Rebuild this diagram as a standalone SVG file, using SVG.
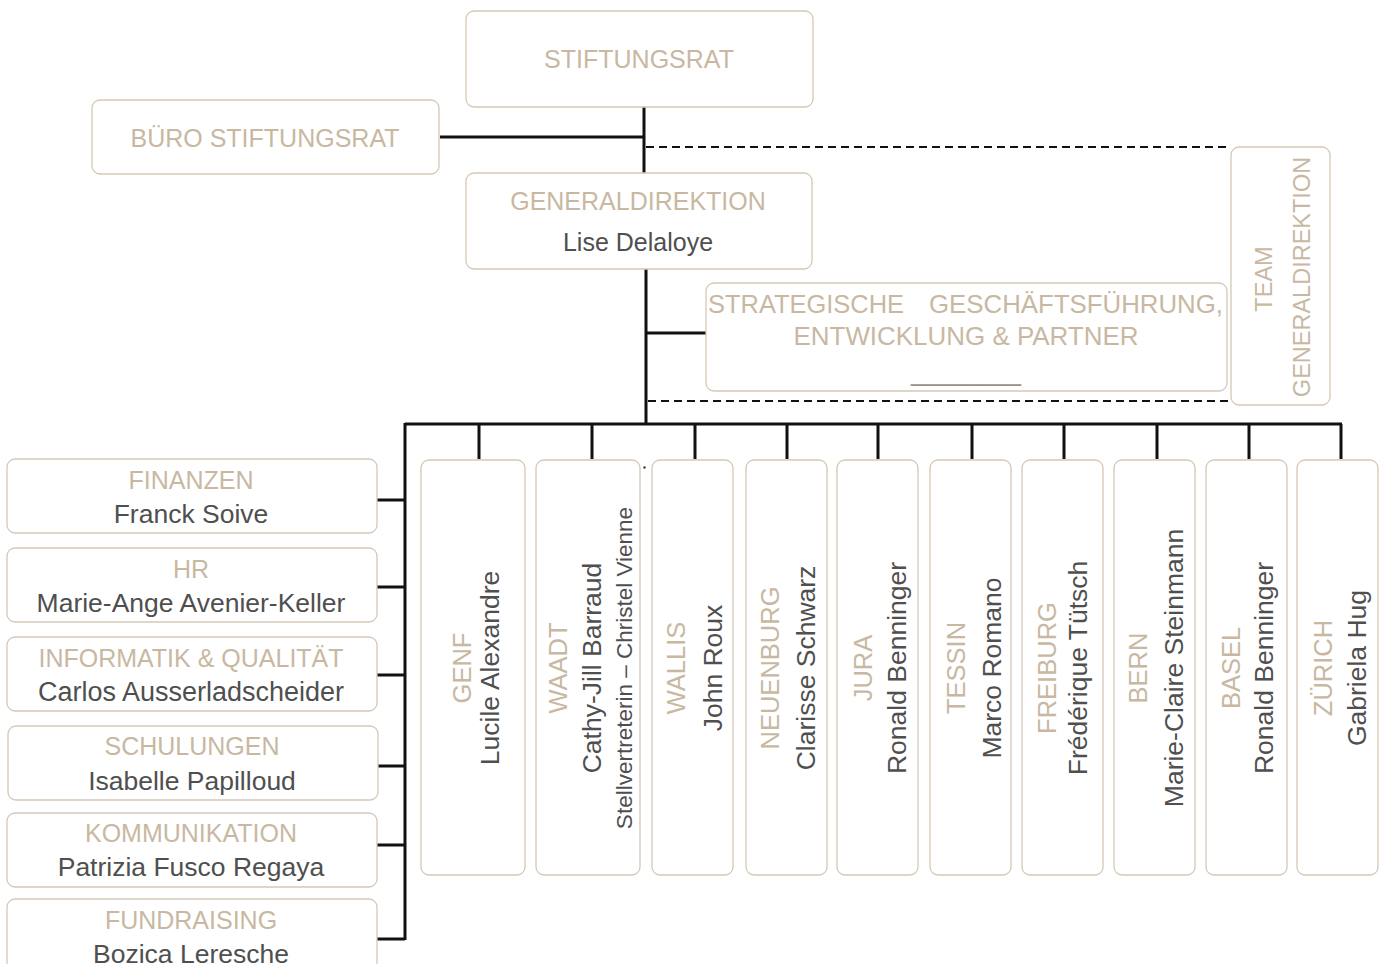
<svg xmlns="http://www.w3.org/2000/svg" width="1384" height="964" viewBox="0 0 1384 964">
<style>
.box{fill:#fff;stroke:#d5c8b6;stroke-width:1.3}
.t{font-family:"Liberation Sans",Arial,Helvetica,sans-serif;fill:#c8b8a2;font-size:25px;text-anchor:middle}
.n{font-family:"Liberation Sans",Arial,Helvetica,sans-serif;fill:#4f4f4f;font-size:26.5px;text-anchor:middle}
.s{font-family:"Liberation Sans",Arial,Helvetica,sans-serif;fill:#4f4f4f;font-size:22.5px;text-anchor:middle}
.ln{fill:none;stroke:#111;stroke-width:3}
.dash{fill:none;stroke:#111;stroke-width:2;stroke-dasharray:8 5}
</style>
<rect width="1384" height="964" fill="#fff"/>
<g id="connectors">
<path class="ln" d="M644 107V173M440 137H644"/>
<path class="dash" d="M646 147H1230"/>
<path class="ln" d="M646 269V424M646 333H706"/>
<path class="dash" d="M648 401H1230"/>
<path class="ln" d="M405 424H1342M405 423V940"/>
<path class="ln" d="M479 424V459M592 424V459M695 424V459M787 424V459M878 424V459M972 424V459M1064 424V459M1157 424V459M1249 424V459M1341 424V459"/>
<path class="ln" d="M377 500H405M377 587H405M377 675H405M378 766H405M377 845H405M377 939H405"/>
<rect x="643.5" y="466.5" width="2" height="2" fill="#111"/>
</g>
<g id="stiftungsrat"><rect class="box" x="466" y="11" width="347" height="96" rx="8"/><text class="t" x="639" y="68">STIFTUNGSRAT</text></g>
<g id="buero"><rect class="box" x="92" y="100" width="347" height="74" rx="8"/><text class="t" x="265" y="147">BÜRO STIFTUNGSRAT</text></g>
<g id="generaldirektion"><rect class="box" x="466" y="173" width="346" height="96" rx="8"/><text class="t" x="638" y="210">GENERALDIREKTION</text><text class="n" x="638" y="251" style="font-size:25px">Lise Delaloye</text></g>
<g id="strategie"><rect class="box" x="706" y="283" width="521" height="108" rx="8"/>
<text class="t" x="708" y="313" style="text-anchor:start" textLength="196" lengthAdjust="spacingAndGlyphs">STRATEGISCHE</text>
<text class="t" x="929" y="313" style="text-anchor:start" textLength="294" lengthAdjust="spacingAndGlyphs">GESCHÄFTSFÜHRUNG,</text>
<text class="t" x="966" y="345" textLength="345" lengthAdjust="spacingAndGlyphs">ENTWICKLUNG &amp; PARTNER</text>
<text class="t" x="966" y="381" style="fill:#9a9085" textLength="110" lengthAdjust="spacingAndGlyphs">________</text></g>
<g id="team"><rect class="box" x="1231" y="147" width="99" height="258" rx="8"/>
<text class="t" style="font-size:23.5px" transform="translate(1272 279) rotate(-90)">TEAM</text>
<text class="t" style="font-size:23.5px" transform="translate(1310 277) rotate(-90)">GENERALDIREKTION</text></g>
<g id="finanzen"><rect class="box" x="7" y="459" width="370" height="74" rx="8"/><text class="t" x="191" y="489">FINANZEN</text><text class="n" x="191" y="523">Franck Soive</text></g>
<g id="hr"><rect class="box" x="7" y="548" width="370" height="74" rx="8"/><text class="t" x="191" y="578">HR</text><text class="n" x="191" y="612">Marie-Ange Avenier-Keller</text></g>
<g id="informatik"><rect class="box" x="7" y="637" width="370" height="74" rx="8"/><text class="t" x="191" y="667">INFORMATIK &amp; QUALITÄT</text><text class="n" x="191" y="701" style="font-size:27px">Carlos Ausserladscheider</text></g>
<g id="schulungen"><rect class="box" x="8" y="726" width="370" height="74" rx="8"/><text class="t" x="192" y="755">SCHULUNGEN</text><text class="n" x="192" y="790">Isabelle Papilloud</text></g>
<g id="kommunikation"><rect class="box" x="7" y="813" width="370" height="74" rx="8"/><text class="t" x="191" y="842">KOMMUNIKATION</text><text class="n" x="191" y="876">Patrizia Fusco Regaya</text></g>
<g id="fundraising"><rect class="box" x="7" y="899" width="370" height="80" rx="8"/><text class="t" x="191" y="929">FUNDRAISING</text><text class="n" x="191" y="963">Bozica Leresche</text></g>
<g id="genf"><rect class="box" x="421" y="460" width="104" height="415" rx="8"/><text class="t" style="font-size:25.5px" transform="translate(471 668) rotate(-90)">GENF</text><text class="n" transform="translate(499 668) rotate(-90)">Lucile Alexandre</text></g>
<g id="waadt"><rect class="box" x="536" y="460" width="104" height="415" rx="8"/><text class="t" style="font-size:25.5px" transform="translate(567 668) rotate(-90)">WAADT</text><text class="n" transform="translate(601 668) rotate(-90)">Cathy-Jill Barraud</text><text class="s" transform="translate(632 668) rotate(-90)">Stellvertreterin – Christel Vienne</text></g>
<g id="wallis"><rect class="box" x="652" y="460" width="81" height="415" rx="8"/><text class="t" style="font-size:25.5px" transform="translate(685 668) rotate(-90)">WALLIS</text><text class="n" transform="translate(722 668) rotate(-90)">John Roux</text></g>
<g id="neuenburg"><rect class="box" x="746" y="460" width="81" height="415" rx="8"/><text class="t" style="font-size:25.5px" transform="translate(779 668) rotate(-90)">NEUENBURG</text><text class="n" transform="translate(815 668) rotate(-90)">Clarisse Schwarz</text></g>
<g id="jura"><rect class="box" x="837" y="460" width="81" height="415" rx="8"/><text class="t" style="font-size:25.5px" transform="translate(872 668) rotate(-90)">JURA</text><text class="n" transform="translate(906 668) rotate(-90)">Ronald Benninger</text></g>
<g id="tessin"><rect class="box" x="930" y="460" width="81" height="415" rx="8"/><text class="t" style="font-size:25.5px" transform="translate(965 668) rotate(-90)">TESSIN</text><text class="n" transform="translate(1001 668) rotate(-90)">Marco Romano</text></g>
<g id="freiburg"><rect class="box" x="1022" y="460" width="81" height="415" rx="8"/><text class="t" style="font-size:25.5px" transform="translate(1056 668) rotate(-90)">FREIBURG</text><text class="n" transform="translate(1087 668) rotate(-90)">Frédérique Tütsch</text></g>
<g id="bern"><rect class="box" x="1114" y="460" width="81" height="415" rx="8"/><text class="t" style="font-size:25.5px" transform="translate(1147 668) rotate(-90)">BERN</text><text class="n" transform="translate(1183 668) rotate(-90)">Marie-Claire Steinmann</text></g>
<g id="basel"><rect class="box" x="1206" y="460" width="81" height="415" rx="8"/><text class="t" style="font-size:25.5px" transform="translate(1240 668) rotate(-90)">BASEL</text><text class="n" transform="translate(1273 668) rotate(-90)">Ronald Benninger</text></g>
<g id="zuerich"><rect class="box" x="1297" y="460" width="81" height="415" rx="8"/><text class="t" style="font-size:25.5px" transform="translate(1332 668) rotate(-90)">ZÜRICH</text><text class="n" transform="translate(1366 668) rotate(-90)">Gabriela Hug</text></g>
</svg>
